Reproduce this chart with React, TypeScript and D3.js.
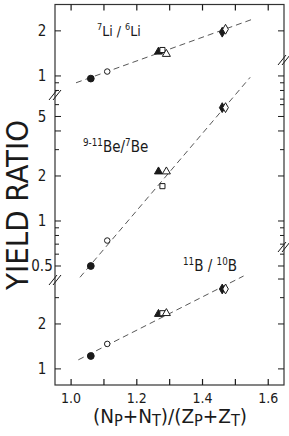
import React, { useEffect, useRef } from 'react'
import * as d3 from 'd3'

// marker kinds, one per projectile/target system
const markers = ['fillCircle', 'openCircle', 'fillTriangle', 'openSquare', 'openTriangle', 'fillDiamond', 'openDiamond']
const systemX = [1.06, 1.11, 1.266, 1.278, 1.29, 1.46, 1.47]

const liRatio = [0.96, 1.07, 1.45, 1.49, 1.40, 1.96, 2.05]
const beRatio = [0.50, 0.74, 2.14, 1.71, 2.14, 5.73, 5.73]
const bRatio = [1.22, 1.47, 2.33, 2.36, 2.36, 3.43, 3.43]

// dashed fit lines, [x, ratio] end points
const liFit: [number, number][] = [[1.015, 0.9], [1.554, 2.4]]
const beFit: [number, number][] = [[1.027, 0.42], [1.545, 9.14]]
const bFit: [number, number][] = [[1.022, 1.15], [1.525, 4.19]]

const xMajor = [1.0, 1.2, 1.4, 1.6]
const xMinor = [1.1, 1.3, 1.5]

const liLabels = [1, 2]
const beLabels = [0.5, 1, 2, 5]
const bLabels = [1, 2]

const liTicksL = [0.8, 0.9, 1, 2]
const beTicksL = [0.5, 0.6, 0.7, 0.8, 0.9, 1, 2, 3, 4, 5, 6]
const bTicksL = [1, 2, 3]
const liTicksR = [0.7, 0.8, 0.9, 1, 2]
const beTicksR = [0.5, 0.6, 0.7, 0.8, 0.9, 1, 2, 3, 4, 5, 6]
const bTicksR = [1, 2, 3, 4]
const majorTicks = [1, 2, 5, 0.5, 4]

const W = 289
const H = 436
const L = 55
const R = 284
const T = 4.5
const B = 385
const breaksLeft = [95, 280]
const breaksRight = [60, 247]

const App: React.FC = () => {
  const svgRef = useRef<SVGSVGElement>(null)

  useEffect(() => {
    const svg = d3.select(svgRef.current)
    svg.selectAll('*').remove()

    const font = "'Liberation Sans Narrow', 'DejaVu Sans Condensed', 'Roboto Condensed', 'Arial Narrow', sans-serif"
    const ink = '#1a1a1a'

    const x = d3.scaleLinear().domain([0.951, 1.648]).range([L, R])
    const yLi = d3.scaleLog().domain([0.746, 3]).range([breaksLeft[0], T])
    const yBe = d3.scaleLog().domain([0.403, 6.96]).range([breaksLeft[1], breaksLeft[0]])
    const yB = d3.scaleLog().domain([0.78, 3.94]).range([B, breaksLeft[1]])

    const panels = [
      { y: yLi, data: liRatio, fit: liFit, labels: liLabels, tl: liTicksL, tr: liTicksR },
      { y: yBe, data: beRatio, fit: beFit, labels: beLabels, tl: beTicksL, tr: beTicksR },
      { y: yB, data: bRatio, fit: bFit, labels: bLabels, tl: bTicksL, tr: bTicksR },
    ]

    // frame
    svg.append('rect')
      .attr('x', L).attr('y', T).attr('width', R - L).attr('height', B - T)
      .attr('fill', 'none').attr('stroke', '#333').attr('stroke-width', 1.2)

    // x ticks top & bottom
    const allX = [...xMajor, ...xMinor]
    allX.forEach(v => {
      svg.append('line').attr('x1', x(v)).attr('x2', x(v)).attr('y1', B).attr('y2', B - 6)
        .attr('stroke', ink).attr('stroke-width', 1.2)
      svg.append('line').attr('x1', x(v)).attr('x2', x(v)).attr('y1', T).attr('y2', T + 6)
        .attr('stroke', ink).attr('stroke-width', 1.2)
    })
    xMajor.forEach(v => {
      svg.append('text').attr('x', x(v)).attr('y', 403)
        .attr('text-anchor', 'middle').attr('font-family', font).attr('font-size', 14)
        .attr('fill', ink).text(v.toFixed(1))
    })

    // y ticks on both sides
    panels.forEach(p => {
      p.tl.forEach(v => {
        const len = majorTicks.includes(v) ? 6 : 4
        svg.append('line').attr('x1', L).attr('x2', L + len).attr('y1', p.y(v)).attr('y2', p.y(v))
          .attr('stroke', ink).attr('stroke-width', 1)
      })
      p.tr.forEach(v => {
        const len = majorTicks.includes(v) ? 6 : 4
        svg.append('line').attr('x1', R).attr('x2', R - len).attr('y1', p.y(v)).attr('y2', p.y(v))
          .attr('stroke', ink).attr('stroke-width', 1)
      })
      p.labels.forEach(v => {
        svg.append('text').attr('x', 42).attr('y', p.y(v)).attr('dy', '0.36em')
          .attr('text-anchor', 'middle').attr('font-family', font).attr('font-size', 15)
          .attr('fill', ink).text(String(v))
      })
    })

    // axis break marks
    const breakMark = (cx: number, cy: number) => {
      ;[-2, 2].forEach(o => {
        svg.append('line')
          .attr('x1', cx - 4 + o).attr('y1', cy + 5)
          .attr('x2', cx + 4 + o).attr('y2', cy - 5)
          .attr('stroke', ink).attr('stroke-width', 1)
      })
    }
    breaksLeft.forEach(b => breakMark(L, b))
    breaksRight.forEach(b => breakMark(R, b))

    // fit lines
    panels.forEach(p => {
      const line = d3.line<[number, number]>().x(d => x(d[0])).y(d => p.y(d[1]))
      svg.append('path').attr('d', line(p.fit)).attr('fill', 'none')
        .attr('stroke', '#444').attr('stroke-width', 0.9).attr('stroke-dasharray', '6,4')
    })

    // data markers
    const sym = (kind: string) => {
      if (kind.endsWith('Circle')) return d3.symbol(d3.symbolCircle, kind === 'fillCircle' ? 36 : 24)()
      if (kind.endsWith('Triangle')) return d3.symbol(d3.symbolTriangle, 28)()
      if (kind.endsWith('Square')) return d3.symbol(d3.symbolSquare, 26)()
      return d3.symbol(d3.symbolDiamond, 28)()
    }
    panels.forEach(p => {
      p.data.forEach((v, i) => {
        const kind = markers[i]
        const filled = kind.startsWith('fill')
        svg.append('path')
          .attr('d', sym(kind))
          .attr('transform', `translate(${x(systemX[i])},${p.y(v)})`)
          .attr('fill', filled ? ink : '#fff')
          .attr('stroke', ink).attr('stroke-width', 1)
      })
    })

    // panel labels, superscript mass numbers
    const isoLabel = (px: number, py: number, parts: [string, boolean][], size: number) => {
      const t = svg.append('text').attr('x', px).attr('y', py)
        .attr('font-family', font).attr('font-size', size).attr('fill', ink)
      const lift = size * 0.4
      let up = false
      parts.forEach(([s, sup]) => {
        const sp = t.append('tspan').text(s)
        if (sup) {
          sp.attr('font-size', size * 0.65)
          if (!up) sp.attr('dy', -lift)
          up = true
        } else {
          if (up) sp.attr('dy', lift)
          up = false
        }
      })
    }
    isoLabel(97, 36, [['7', true], ['Li / ', false], ['6', true], ['Li', false]], 14)
    isoLabel(83, 152, [['9-11', true], ['Be/', false], ['7', true], ['Be', false]], 15)
    isoLabel(183, 271, [['11', true], ['B / ', false], ['10', true], ['B', false]], 15)

    // x axis title
    const xt = svg.append('text').attr('x', 93).attr('y', 423)
      .attr('font-family', font).attr('font-size', 19).attr('fill', ink)
      .attr('textLength', 154).attr('lengthAdjust', 'spacingAndGlyphs')
    const xParts: [string, boolean][] = [['(N', false], ['P', true], ['+N', false], ['T', true], [')/(Z', false], ['P', true], ['+Z', false], ['T', true], [')', false]]
    xParts.forEach(([s, sub], i) => {
      const sp = xt.append('tspan').text(s)
      if (sub) sp.attr('dy', 3).attr('font-size', 15)
      else if (i > 0) sp.attr('dy', -3)
    })

    // y axis title
    svg.append('text')
      .attr('transform', 'translate(28,205) rotate(-90)')
      .attr('text-anchor', 'middle').attr('font-family', font).attr('font-size', 30)
      .attr('fill', ink).attr('textLength', 170).attr('lengthAdjust', 'spacingAndGlyphs')
      .text('YIELD RATIO')
  }, [])

  return (
    <svg ref={svgRef} width={W} height={H}
      style={{ position: 'absolute', left: 0, top: 0, background: '#fff' }} />
  )
}

export default App
